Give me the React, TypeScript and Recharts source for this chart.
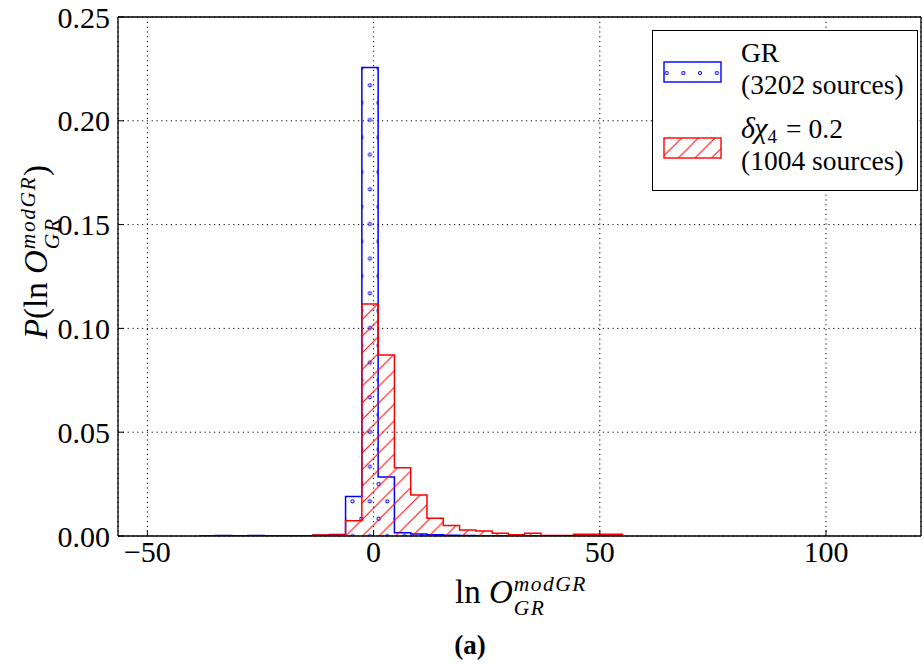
import { ComposedChart, Area, XAxis, YAxis, CartesianGrid, Legend } from "recharts"

// histogram bin left edges (last entry is the right edge of the final bin)
const binLeft = [
  -38.6, -35, -31.4, -27.8, -24.2, -20.6, -17, -13.4, -9.8, -6.2, -2.6, 1, 4.6, 8.2,
  11.8, 15.4, 19, 22.6, 26.2, 29.8, 33.4, 37, 40.6, 44.2, 47.8, 51.4, 55,
]
// normalised counts
const grDensity = [
  0, 0.0002, 0, 0.0002, 0, 0, 0, 0.0004, 0.0007, 0.019, 0.2257, 0.0284, 0.0016, 0.001,
  0.0006, 0.0004, 0.0002, 0, 0, 0, 0, 0, 0, 0, 0, 0, 0,
]
const modDensity = [
  0, 0, 0, 0, 0, 0, 0, 0.0005, 0.0005, 0.0074, 0.1117, 0.0872, 0.0329, 0.0198,
  0.0085, 0.005, 0.0029, 0.0024, 0.0013, 0.0006, 0.0013, 0.0003, 0.0003, 0.0009, 0.0009, 0.0009, 0,
]
const xTicks = [-50, 0, 50, 100]
const yTicks = [0, 0.05, 0.1, 0.15, 0.2, 0.25]
const grSources = 3202
const modSources = 1004

const serif = "'Liberation Serif', 'Times New Roman', serif"
const BLUE = "#0000ff"
const RED = "#ff0000"

const data = binLeft.map((x, i) => ({ x, gr: grDensity[i], mod: modDensity[i] }))

function Odds() {
  return (
    <>
      ln <i>O</i>
      <span
        style={{
          display: "inline-flex",
          flexDirection: "column",
          verticalAlign: "12px",
          fontSize: 21.5,
          lineHeight: "24px",
          letterSpacing: 1.5,
          marginLeft: 1,
        }}
      >
        <i>modGR</i>
        <i>GR</i>
      </span>
    </>
  )
}

function HistLegend() {
  const text = (top: number, child: React.ReactNode) => (
    <div style={{ position: "absolute", left: 88, top, lineHeight: "27px", whiteSpace: "nowrap" }}>{child}</div>
  )
  return (
    <div
      style={{
        position: "relative",
        width: 266,
        height: 161,
        border: "1.3px solid #000",
        boxSizing: "border-box",
        background: "#fff",
        fontFamily: serif,
        fontSize: 27.5,
        color: "#000",
      }}
    >
      <svg style={{ position: "absolute", left: 10, top: 30 }} width={59} height={22}>
        <defs>
          <pattern id="legDots" patternUnits="userSpaceOnUse" width={16.7} height={22} x={-2.3} y={0}>
            <circle cx={6} cy={12} r={1.6} fill="none" stroke={BLUE} strokeWidth={1} />
          </pattern>
          <pattern id="legHatch" patternUnits="userSpaceOnUse" width={16.67} height={16.67} x={3} y={0}>
            <path d="M0,16.67 L16.67,0 M-2,2 L2,-2 M14.67,18.67 L18.67,14.67" stroke={RED} strokeWidth={1} />
          </pattern>
        </defs>
        <rect x={1} y={1} width={57} height={20} fill="url(#legDots)" stroke={BLUE} strokeWidth={1.4} />
      </svg>
      <svg style={{ position: "absolute", left: 10, top: 106 }} width={59} height={22}>
        <rect x={1} y={1} width={57} height={20} fill="url(#legHatch)" stroke={RED} strokeWidth={1.4} />
      </svg>
      {text(7.5, "GR")}
      {text(40, `(${grSources} sources)`)}
      {text(82.5, (
        <>
          <i style={{ fontSize: 30 }}>δχ</i>
          <span style={{ fontSize: 19, verticalAlign: "-5px" }}>4</span>
          <span style={{ margin: "0 7px 0 9px" }}>=</span>0.2
        </>
      ))}
      {text(116, `(${modSources} sources)`)}
    </div>
  )
}

export default function App() {
  const tickStyle = { fill: "#000", fontSize: 30, fontFamily: serif }
  return (
    <div style={{ position: "absolute", left: 0, top: 0, width: 923, height: 666, background: "#fff" }}>
      <ComposedChart width={923} height={666} data={data} margin={{ top: 16, right: 1, bottom: 90, left: 0 }}>
        <defs>
          <pattern id="grDots" patternUnits="userSpaceOnUse" width={17.33} height={34.67} x={1.67} y={11.67}>
            <circle cx={4.33} cy={4.33} r={1.6} fill="none" stroke={BLUE} strokeWidth={1} />
            <circle cx={13} cy={21.67} r={1.6} fill="none" stroke={BLUE} strokeWidth={1} />
          </pattern>
          <pattern id="modHatch" patternUnits="userSpaceOnUse" width={16.67} height={16.67} x={14.9} y={0}>
            <path d="M0,16.67 L16.67,0 M-2,2 L2,-2 M14.67,18.67 L18.67,14.67" stroke={RED} strokeWidth={1} />
          </pattern>
        </defs>
        <CartesianGrid stroke="#000" strokeDasharray="1.2 3.6" strokeWidth={1} />
        <XAxis
          dataKey="x"
          type="number"
          domain={[-56.5, 121]}
          ticks={xTicks}
          allowDataOverflow
          height={40}
          tickSize={-6}
          tickMargin={11}
          tick={tickStyle}
          tickFormatter={(v: number) => String(v).replace("-", "\u2212")}
          axisLine={{ stroke: "#000", strokeWidth: 1.3 }}
          tickLine={{ stroke: "#000" }}
        />
        <XAxis
          xAxisId="top"
          orientation="top"
          type="number"
          domain={[-56.5, 121]}
          ticks={xTicks}
          allowDataOverflow
          height={1}
          tickSize={-6}
          tick={false}
          axisLine={{ stroke: "#000", strokeWidth: 1.3 }}
          tickLine={{ stroke: "#000" }}
        />
        <YAxis
          type="number"
          domain={[0, 0.25]}
          ticks={yTicks}
          allowDataOverflow
          width={118}
          tickSize={-6}
          tickMargin={14}
          tick={tickStyle}
          tickFormatter={(v: number) => v.toFixed(2)}
          axisLine={{ stroke: "#000", strokeWidth: 1.3 }}
          tickLine={{ stroke: "#000" }}
        />
        <YAxis
          yAxisId="right"
          orientation="right"
          type="number"
          domain={[0, 0.25]}
          ticks={yTicks}
          allowDataOverflow
          width={1}
          tickSize={-6}
          tick={false}
          axisLine={{ stroke: "#000", strokeWidth: 1.3 }}
          tickLine={{ stroke: "#000" }}
        />
        <Area
          type="stepAfter"
          dataKey="gr"
          stroke={BLUE}
          strokeWidth={1.5}
          fill="url(#grDots)"
          fillOpacity={1}
          dot={false}
          activeDot={false}
          isAnimationActive={false}
        />
        <Area
          type="stepAfter"
          dataKey="mod"
          stroke={RED}
          strokeWidth={1.5}
          fill="url(#modHatch)"
          fillOpacity={1}
          dot={false}
          activeDot={false}
          isAnimationActive={false}
        />
        <Legend
          layout="vertical"
          align="center"
          verticalAlign="middle"
          wrapperStyle={{ left: 652, top: 30, width: 266, height: 161 }}
          content={() => <HistLegend />}
        />
      </ComposedChart>

      <div
        style={{
          position: "absolute",
          left: 455,
          top: 562.2,
          fontFamily: serif,
          fontSize: 33,
          lineHeight: "60px",
          whiteSpace: "nowrap",
        }}
      >
        <Odds />
      </div>
      <div
        style={{
          position: "absolute",
          left: 36,
          top: 252,
          transform: "translate(-50%, -50%) rotate(-90deg)",
          fontFamily: serif,
          fontSize: 33,
          lineHeight: "60px",
          whiteSpace: "nowrap",
        }}
      >
        <i>P</i>(<Odds />)
      </div>
      <div
        style={{
          position: "absolute",
          left: 470,
          top: 630,
          transform: "translateX(-50%)",
          fontFamily: serif,
          fontSize: 27,
          fontWeight: "bold",
          lineHeight: "30px",
        }}
      >
        (a)
      </div>
    </div>
  )
}
